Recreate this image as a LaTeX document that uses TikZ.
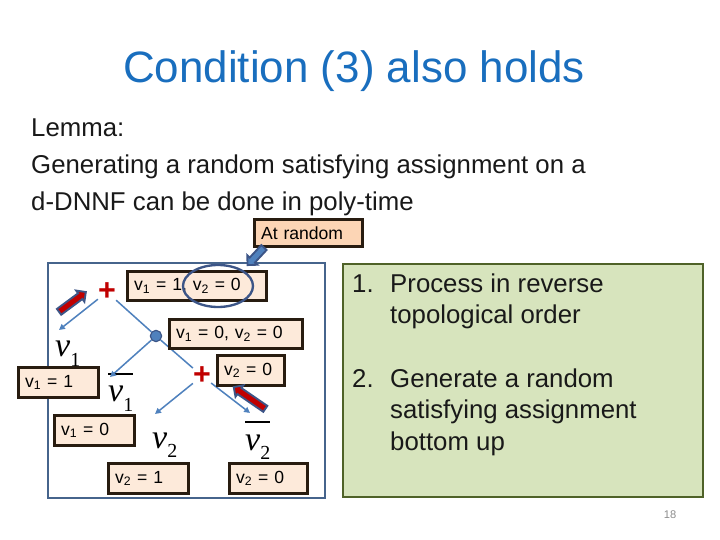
\documentclass[tikz,border=0pt]{standalone}
\usepackage{fontspec}
\setmainfont{Liberation Sans}
\newfontfamily\timesfont{Liberation Serif}
\usepackage{tikz}
\usetikzlibrary{shapes.arrows, positioning, arrows.meta}

\definecolor{titleblue}{RGB}{25,110,190}
\definecolor{valfill}{RGB}{253,234,218}
\definecolor{randfill}{RGB}{252,213,181}
\definecolor{boxedge}{RGB}{40,28,16}
\definecolor{framecol}{RGB}{70,100,140}
\definecolor{greenfill}{RGB}{215,228,189}
\definecolor{greenedge}{RGB}{79,98,40}
\definecolor{edgeblue}{RGB}{79,129,189}
\definecolor{arrowred}{RGB}{192,0,0}
\definecolor{arrowedge}{RGB}{60,85,135}

% italic literal with its index, and its negation with a bar on top
\newcommand{\varlabel}[1]{{\itshape v}\raisebox{-0.28em}{\fontsize{17}{17}\selectfont #1}}
\newcommand{\negvarlabel}[1]{\setbox0\hbox{\varlabel{#1}}\vbox{\hrule width \wd0 height 1.2pt\kern 10pt\box0}}

\begin{document}
\begin{tikzpicture}[
        x=0.03cm, y=-0.03cm,
        >=Triangle,
        valbox/.style={draw=boxedge, fill=valfill, line width=2.4pt, inner xsep=0.2cm, inner ysep=0pt,
            align=left, anchor=north west, font=\fontsize{15}{15}\selectfont},
        edge_style/.style={draw=edgeblue, line width=1.3pt},
        arrow_style/.style={edge_style, -{Triangle[length=5pt, width=5pt]}},
        plusnode/.style={inner sep=0pt, text=arrowred, font=\bfseries\fontsize{26}{26}\selectfont},
        ornode/.style={circle, fill=edgeblue, draw=arrowedge, line width=1pt, minimum size=0.34cm, inner sep=0pt},
        litnode/.style={anchor=base west, inner sep=0pt, font=\timesfont\fontsize{29}{29}\selectfont},
        listtext/.style={anchor=base west, inner sep=0pt, text=black!90, font=\fontsize{22}{22}\selectfont},
        fatarrow/.style={single arrow, draw=arrowedge, line width=1.6pt, inner xsep=0pt, inner ysep=0.08cm,
            single arrow head extend=0.1cm, single arrow head indent=0pt}
    ]
    \useasboundingbox (0,0) rectangle (720,540);

    % =========================================================================
    % 1. TITLE AND LEMMA
    % =========================================================================
    \node[anchor=base, text=titleblue, font=\fontsize{37.5}{37.5}\selectfont] (title) at (354,83) {Condition (3) also holds};
    \node[listtext] (lem1) at (31,137) {Lemma:};
    \node[listtext] (lem2) at (31,174) {Generating a random satisfying assignment on a};
    \node[listtext] (lem3) at (31,211) {d-DNNF can be done in poly-time};

    % =========================================================================
    % 2. FRAMES
    % =========================================================================
    \draw[draw=framecol, line width=2.2pt] (48,263) rectangle (325,498);
    \draw[draw=greenedge, fill=greenfill, line width=2.5pt] (343,264) rectangle (703,497);

    % =========================================================================
    % 3. DAG NODES
    % =========================================================================
    \node[plusnode] (and1) at (107,292) {+};
    \node[ornode] (or1) at (156,336) {};
    \node[plusnode] (and2) at (202,376) {+};

    % leaves
    \node[litnode] (lv1) at (55,357) {\varlabel{1}};
    \node[litnode] (nv1) at (108,402) {\negvarlabel{1}};
    \node[litnode] (lv2) at (152,448) {\varlabel{2}};
    \node[litnode] (nv2) at (245,450) {\negvarlabel{2}};

    % arrow ends
    \coordinate (e1) at (59,330);
    \coordinate (e2) at (110,377);
    \coordinate (e3) at (155,414);
    \coordinate (e4) at (250,413);

    \draw[arrow_style] (and1) -- (e1);
    \draw[edge_style] (and1) -- (or1);
    \draw[edge_style] (or1) -- (and2);
    \draw[arrow_style] (or1) -- (e2);
    \draw[arrow_style] (and2) -- (e3);
    \draw[arrow_style] (and2) -- (e4);

    % =========================================================================
    % 4. VALUE BOXES
    % =========================================================================
    \node[valbox, fill=randfill, text width=2.85cm, minimum height=0.81cm] (rand) at (253,218) {At random};
    \node[valbox, text width=3.77cm, minimum height=0.87cm] (b1) at (126,270) {v\textsubscript{1} = 1, v\textsubscript{2} = 0};
    \node[valbox, text width=3.59cm, minimum height=0.87cm] (b2) at (168,318) {v\textsubscript{1} = 0, v\textsubscript{2} = 0};
    \node[valbox, text width=1.61cm, minimum height=0.9cm] (b3) at (216,354) {v\textsubscript{2} = 0};
    \node[valbox, text width=2.0cm, minimum height=0.9cm] (b4) at (17,366) {v\textsubscript{1} = 1};
    \node[valbox, text width=2.0cm, minimum height=0.9cm] (b5) at (53,414) {v\textsubscript{1} = 0};
    \node[valbox, text width=2.0cm, minimum height=0.9cm] (b6) at (107,462) {v\textsubscript{2} = 1};
    \node[valbox, text width=1.94cm, minimum height=0.9cm] (b7) at (228,462) {v\textsubscript{2} = 0};

    % ring round the random choice
    \draw[draw=arrowedge, line width=2pt] (218,286) ellipse [x radius=35, y radius=21];

    % =========================================================================
    % 5. BLOCK ARROWS
    % =========================================================================
    \node[fatarrow, fill=edgeblue, minimum height=0.72cm, rotate=-133] (pick) at (257,255) {};
    \node[fatarrow, fill=arrowred, minimum height=1.0cm, rotate=36.5] (up1) at (71,303) {};
    \node[fatarrow, fill=arrowred, minimum height=1.15cm, rotate=145.5] (up2) at (251,399) {};

    % =========================================================================
    % 6. STEPS
    % =========================================================================
    \node[listtext] (n1) at (352,293) {1.};
    \node[listtext] (s1a) at (390,293) {Process in reverse};
    \node[listtext] (s1b) at (390,324) {topological order};
    \node[listtext] (n2) at (352,387) {2.};
    \node[listtext] (s2a) at (390,387) {Generate a random};
    \node[listtext] (s2b) at (390,419) {satisfying assignment};
    \node[listtext] (s2c) at (390,450) {bottom up};

    \node[text=black!45, font=\fontsize{9.5}{9.5}\selectfont] (page) at (670,515) {18};

    \end{tikzpicture}
\end{document}
